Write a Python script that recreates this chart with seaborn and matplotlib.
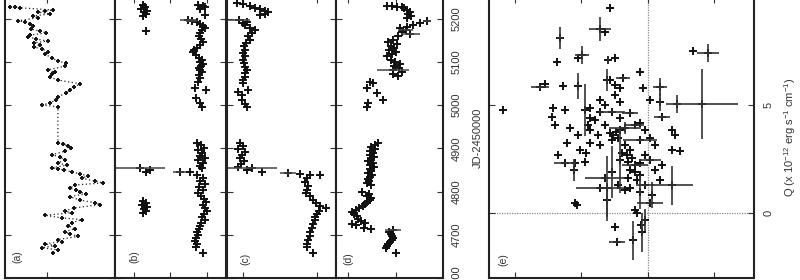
import matplotlib
matplotlib.use("Agg")
import matplotlib.pyplot as plt
import seaborn as sns
import pandas as pd

# ---------------- data ----------------
jd_ticks = [4600, 4700, 4800, 4900, 5000, 5100, 5200]

# (a) light curve
a_jd = [5227,5227,5225,5220,5218,5215,5211,5206,5202,5195,5192,5188,5183,5176,5171,5167,5162,5158,5153,5148,
        5144,5139,5134,5130,5123,5118,5109,5102,5097,5090,5081,5076,5072,5065,5058,5049,5042,5035,5028,5019,
        5012,5005,5000,4996,4912,4910,4905,4900,4893,4885,4880,4873,4866,4861,4855,4853,4850,4845,4841,4836,
        4831,4824,4820,4815,4808,4804,4799,4795,4788,4780,4774,4770,4762,4755,4751,4745,4739,4735,4728,4721,
        4714,4707,4702,4696,4689,4684,4679,4675,4670,4665,4658]
a_flux = [15.4,14.7,14.0,9.1,10.3,11.3,9.6,12.1,11.3,14.3,13.2,12.5,12.1,12.4,11.0,10.1,12.5,12.8,11.6,9.9,
          11.9,11.0,11.9,10.7,9.9,10.3,9.3,8.4,7.2,7.4,9.9,8.8,9.3,9.6,8.4,5.1,6.0,6.6,7.2,8.4,
          8.7,9.6,10.7,8.4,8.4,7.6,6.9,6.5,7.4,9.3,8.1,7.4,8.4,7.1,9.3,8.4,7.5,6.3,5.1,4.0,
          4.9,2.9,1.8,5.9,6.6,5.7,5.1,4.3,6.6,5.1,2.9,2.2,6.0,7.4,6.3,10.3,7.8,4.9,6.3,6.9,
          5.9,7.4,6.6,5.4,8.4,7.8,10.3,8.8,10.7,8.4,9.1]
a_ticks = [10]

# (b)
b_jd = [5231,5227,5222,5218,5215,5211,5206,5171,
        5231,5229,5227,5222,5208,5197,5194,5192,5188,5183,5178,5174,5167,5160,5153,5146,5139,5132,5127,5123,
        5116,5109,5104,5100,5095,5090,5086,5081,5076,5070,5063,5053,5040,5035,5016,5005,4996,
        4912,4908,4901,4896,4889,4882,4878,4873,4866,4859,4854,4845,4845,4838,4831,4824,4817,4810,4803,4796,
        4790,4783,4776,4769,4762,4755,4748,4741,4734,4727,4720,4713,4706,4699,4692,4685,4679,4672,4658,
        4854,4850,4845,4778,4773,4769,4764,4759,4755,4750]
b_val = [27.4,26.9,28.0,26.4,27.2,26.6,27.4,26.6,
         12.4,11.1,10.5,11.9,10.5,15.2,14.1,12.7,11.9,11.1,10.5,11.4,11.9,12.2,11.6,11.1,11.9,12.7,13.5,13.8,
         13.0,12.2,11.4,11.9,11.1,11.6,12.2,11.9,11.4,12.2,11.9,12.4,13.3,10.3,13.0,11.9,11.4,
         12.7,11.6,10.8,12.4,11.4,11.9,10.5,12.4,11.1,11.9,11.4,17.4,14.6,12.7,11.1,11.9,10.5,12.2,11.1,12.4,
         11.6,10.8,10.3,11.1,10.5,10.0,10.8,11.4,10.5,11.6,11.9,12.2,12.7,12.4,13.0,13.3,12.7,13.0,11.1,
         28.3,25.5,26.6,27.4,26.6,27.7,26.4,27.2,26.6,27.4]
b_err_jd = [5197, 5194, 4854, 4845]
b_err_val = [15.2, 14.1, 28.3, 17.4]
b_err = [2.2, 1.5, 6.8, 1.8]
b_ticks = [10, 20, 30]

# (c)
c_jd = [5236,5233,5229,5225,5222,5218,5215,5211,5208, 5197,5192,5190,
        5185,5178,5174,5167,5160,5150,5144,5137,5127,5120,5113,5104,5097,5088,5081,5074,5065,5058,5051,5035,
        5030,5023,5012,5002,4996,
        4912,4905,4898,4891,4884,4878,4871,4864,4857,4854,4850,4845,
        4843,4841,4838,4838,4831,4822,4813,4803,4796,4790,4781,4773,4767,4762,4755,4748,4741,4734,4725,4716,
        4706,4697,4688,4679,4672,4658]
c_val = [208,200,190,184,177,170,166,170,177, 205,195,200,
         197.3,190.5,183.8,187.8,193.2,190.5,195.9,198.6,197.3,200.0,197.3,200.0,198.6,197.3,194.6,197.3,
         197.3,200.0,200.0,193.2,206.7,201.3,201.3,197.3,194.6,
         204.0,200.0,206.7,197.3,201.3,204.0,198.6,202.7,206.7,187.8,194.6,174.3,
         139.2,123.0,109.5,95.9,113.5,116.2,112.2,113.5,114.9,109.5,105.4,101.4,95.9,87.8,97.3,100.0,102.7,
         102.7,105.4,106.8,109.5,109.5,112.2,113.5,113.5,105.4]
c_err_jd = [5197, 4854, 4843]
c_err_val = [205, 187.8, 139.2]
c_err = [15, 33.8, 10.8]
c_ticks = [100, 200]

# (d)
d_jd = [5230,5229,5228,5227,5224,5220,5215,5211,5206,5202,
        5194,5190,5185,5181,
        5178,5174,5169,5164,5160,
        5150,5146,5141,5137,5132,5127,5123,5118,5113,
        5104,5100,5095,5090,5086,5081,5076,5072,5067,
        5053,5051,5040,5028,5012,5005,4996,
        4912,4908,4903,4898,4894,4889,4884,4880,4875,4871,4866,4861,4857,4852,4848,4843,4838,4834,4829,4824,
        4820,4815,4799,
        4794,4789,4785,4780,4776,4771,4766,4762,4757,4752,4748,4743,
        4736,4732,4727,4725,4722,4716,4714,4711,
        4706,4702,4697,4692,4688,4683,4679,4674,4670,4658]
d_val = [0.9,0.4,-0.1,-0.6,-0.8,-1.2,-1.5,-1.3,-1.6,-1.2,
         -3.2,-2.5,-1.8,-1.15,
         -0.4,-1.0,-0.6,-1.5,-0.2,
         0.3,0.8,-0.1,0.5,0.2,0.7,0.0,0.4,0.9,
         0.5,0.1,-0.4,0.2,-0.3,0.3,-0.6,0.3,-0.2,
         2.7,2.4,3.0,2.0,1.4,2.9,3.0,
         1.9,2.2,2.6,2.2,2.7,2.4,2.7,2.3,2.6,2.9,2.4,2.7,2.3,2.7,2.6,2.9,2.5,2.7,2.9,2.8,
         3.0,2.6,3.5,
         2.8,3.0,2.6,2.7,3.0,3.2,3.4,3.8,4.2,4.6,4.4,4.1,
         4.0,3.6,3.2,4.6,4.2,3.3,2.6,0.3,
         0.7,0.5,0.4,0.3,0.4,0.6,0.8,0.9,1.0,0.0]
d_err_jd = [5194, 5174, 5164, 5081, 4711]
d_err_val = [-3.2, -1.0, -1.5, 0.3, 0.3]
d_err = [0.4, 0.8, 1.0, 1.7, 0.8]
d_ticks = [0, 5]

# (e) Q-U plane
e_u = [2.86,3.61,3.23,6.62,4.96,5.26,6.84,3.01,2.48,-3.38,
       -4.51,0.60,8.12,7.74,6.39,5.26,3.08,2.48,2.11,1.88,
       0.38,-0.90,-4.06,-2.18,10.9,-0.90,-1.05,-0.15,7.14,7.22,
       6.99,6.24,5.86,5.26,6.09,5.11,4.66,6.77,6.24,5.49,
       4.74,5.56,4.36,3.98,3.61,3.23,4.36,3.76,4.36,3.61,
       4.74,2.48,2.11,2.71,2.11,1.35,3.23,2.86,2.63,2.41,
       2.26,2.71,2.11,1.73,0.98,0.60,0.23,-0.15,-0.53,0.60,
       1.73,1.35,1.95,1.58,1.20,1.50,2.11,0.98,0.60,0.23,
       -0.15,-0.53,1.35,0.98,0.60,1.50,0.83,3.23,2.71,3.08,
       3.61,2.26,1.73,1.35,0.60,0.23,-0.15,-0.30,-0.90,-1.80,
       -1.05,-1.80,-2.03,-1.80,-2.41,5.49,5.34,0.98,0.83,2.48,
       2.33,1.13,0.45,0.53,0.23,3.08,4.36,4.51,3.61,2.86]
e_q = [9.49,8.52,8.38,8.10,7.31,7.18,6.99,7.08,7.18,7.50,
       7.41,6.53,5.83,5.97,5.88,5.88,6.16,5.93,5.79,6.25,
       5.79,5.83,5.05,5.05,4.77,5.14,4.44,5.23,4.86,4.44,
       4.07,4.77,3.94,3.61,3.24,2.92,2.78,2.69,2.31,2.31,
       2.36,1.99,4.86,4.31,4.68,5.00,3.84,3.61,3.24,3.15,
       4.77,5.46,5.14,4.68,4.40,4.63,4.07,3.70,3.61,3.75,
       3.47,3.38,3.84,3.94,4.07,4.17,3.84,3.47,3.15,3.38,
       3.15,2.92,2.78,2.69,2.55,2.36,2.45,2.22,2.31,2.69,
       2.45,1.99,1.99,1.90,1.76,1.62,1.53,1.62,1.90,1.16,
       1.16,1.30,1.06,1.16,0.97,1.30,0.46,0.83,1.53,1.30,
       2.22,3.84,3.61,2.92,2.87,0.46,0.37,0.14,0.00,-0.65,
       -1.34,-1.25,-0.88,-0.56,-0.32,0.60,4.40,4.07,5.23,6.16]
e_eu = [0,0.8,0,0.2,0.5,0,0,0,0,0,
        0.8,0,0.7,0,0,0,0,0,0,0.5,
        0,0.5,2.7,0.3,0,0,0.6,0,0,0,
        0,0,0,0,0,0,0,0,0.8,0,
        0,0,0,0,0,0,0,0,0,0,
        0,0,0,1.0,0,0.6,0,0,0,0,
        0,0,0,1.2,0.7,0,0,0,0,1.3,
        0,0,0,0,0,0,0,1.0,0,0,
        0.8,0,0,0,0,0,0,1.5,0,0,
        1.8,0,0,0,0,0.7,1.0,0,0,1.6,
        0,0,0,0,0,0,0,0,0,0,
        0.6,0,0,0,0,0,0,0,0,0]
e_eq = [0,0.55,0,0.5,0.4,0,0,0.2,0,0,
        0.4,0,0.1,0,0,0.6,0.5,0,0,0,
        0,0.4,1.6,0.4,0,0.4,0,0,0,0,
        0,0,0,0,0,0,0,0,0,0,
        0,0.5,0,0,0,0,0,0,0,0,
        1.2,0,0,0,0,0,0,0,0,0,
        0,0,0,0.3,0,0,0,0,0,0,
        0,0,0,0,0,0,1.5,0,0,0,
        0,0,0,0,0,0,0,0,1.2,1.5,
        0,0,0,0,0.8,0,0,0.6,0,0.9,
        0,0,0,0,0,0,0,0,0,0,
        0,0.9,0.9,0,0.5,0.8,0,0,0,0]
e_uticks = [-5, 0, 5, 10]
e_qticks = [0, 5]

# ---------------- style ----------------
sns.set_theme(style="ticks")
plt.rcParams['font.family'] = ['Liberation Sans', 'DejaVu Sans']
plt.rcParams['mathtext.fontset'] = 'custom'
plt.rcParams['mathtext.rm'] = 'Liberation Sans'
plt.rcParams['mathtext.it'] = 'Liberation Sans:italic'

W, H = 800, 280
fig = plt.figure(figsize=(8, 2.8), dpi=100)


def rect(x0, x1, ytop=-3, ybot=278):
    return [x0 / W, 1 - ybot / H, (x1 - x0) / W, (ybot - ytop) / H]


def style(ax):
    for s in ax.spines.values():
        s.set_linewidth(1.5)
        s.set_color('#222')
    ax.tick_params(direction='in', length=4, width=0.8, color='#333',
                   top=True, bottom=True, left=True, right=True,
                   labelbottom=False, labelleft=False, labeltop=False, labelright=False)
    ax.set_xlabel('')
    ax.set_ylabel('')


MK = dict(marker='+', color='#111', linewidth=1.4, legend=False)

# (a)
ax_a = fig.add_axes(rect(5, 115))
dfa = pd.DataFrame({'v': a_flux, 'jd': a_jd})
sns.lineplot(data=dfa, x='v', y='jd', sort=False, estimator=None, color='#222',
             lw=0.9, linestyle=(0, (1, 2)), ax=ax_a)
sns.scatterplot(data=dfa, x='v', y='jd', s=12, ax=ax_a, **MK)
ax_a.set_xlim(16.18, 0)
ax_a.set_xticks(a_ticks)

# (b)
ax_b = fig.add_axes(rect(115, 226.5))
ax_b.errorbar(b_err_val, b_err_jd, xerr=b_err, fmt='none', ecolor='#444', elinewidth=1.1)
sns.scatterplot(x=b_val, y=b_jd, s=30, ax=ax_b, **MK)
ax_b.set_xlim(35.07, 4.69)
ax_b.set_xticks(b_ticks)

# (c)
ax_c = fig.add_axes(rect(226.5, 335.5))
ax_c.errorbar(c_err_val, c_err_jd, xerr=c_err, fmt='none', ecolor='#444', elinewidth=1.1)
sns.scatterplot(x=c_val, y=c_jd, s=30, ax=ax_c, **MK)
ax_c.set_xlim(222.3, 75.0)
ax_c.set_xticks(c_ticks)

# (d)
ax_d = fig.add_axes(rect(335.5, 443))
ax_d.errorbar(d_err_val, d_err_jd, xerr=d_err, fmt='none', ecolor='#444', elinewidth=1.1)
sns.scatterplot(x=d_val, y=d_jd, s=30, ax=ax_d, **MK)
ax_d.set_xlim(6.30, -4.90)
ax_d.set_xticks(d_ticks)

for ax in (ax_a, ax_b, ax_c, ax_d):
    style(ax)
    ax.set_ylim(4600, 5250)
    ax.set_yticks(jd_ticks)

ax_d.tick_params(labelright=True, labelrotation=90, axis='y', pad=6, labelsize=8, labelcolor='#333')
for lbl in ax_d.get_yticklabels():
    lbl.set_va('center')
ax_d.yaxis.set_label_position('right')
ax_d.set_ylabel('JD-2450000', fontsize=8, color='#333', rotation=90, labelpad=8)

# (e)
ax_e = fig.add_axes(rect(489, 754))
ax_e.axhline(0, color='#888', lw=0.9, ls=(0, (1, 1)), zorder=0)
ax_e.axvline(0, color='#888', lw=0.9, ls=(0, (1, 1)), zorder=0)
ax_e.errorbar(e_u, e_q, xerr=e_eu, yerr=e_eq, fmt='none', ecolor='#333', elinewidth=1.2)
sns.scatterplot(x=e_u, y=e_q, s=34, ax=ax_e, **MK)
style(ax_e)
ax_e.set_xlim(11.95, -7.97)
ax_e.set_ylim(-3, 10)
ax_e.set_xticks(e_uticks)
ax_e.set_yticks(e_qticks)
ax_e.tick_params(axis='y', labelright=True, labelrotation=90, pad=7, labelsize=8, labelcolor='#333')
for lbl in ax_e.get_yticklabels():
    lbl.set_va('center')
ax_e.yaxis.set_label_position('right')
ax_e.set_ylabel(r'Q (x 10$^{-12}$ erg s$^{-1}$ cm$^{-1}$)', fontsize=8, color='#333',
                rotation=90, labelpad=6)

# panel letters
for lab, (px, py) in {'(a)': (17, 257), '(b)': (134, 257), '(c)': (245, 259),
                      '(d)': (348, 259), '(e)': (503, 260)}.items():
    fig.text(px / W, 1 - py / H, lab, rotation=90, fontsize=7.5, color='#333',
             ha='center', va='center')

fig.savefig('out.png', dpi=100)
